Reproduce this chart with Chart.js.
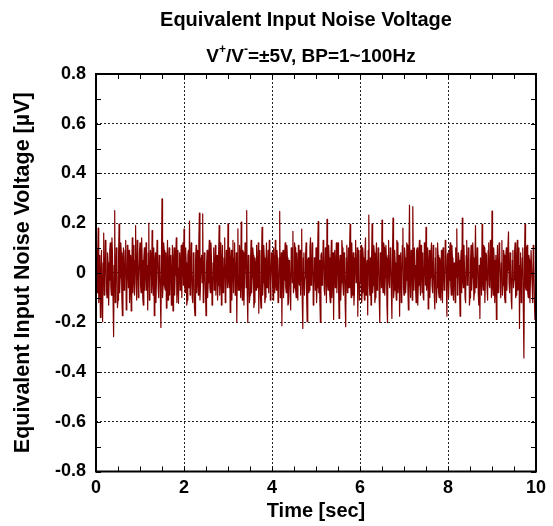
<!DOCTYPE html>
<html>
<head>
<meta charset="utf-8">
<script src="https://cdn.jsdelivr.net/npm/chart.js@4.4.1/dist/chart.umd.min.js"></script>
<style>
  html, body { margin: 0; padding: 0; background: #fff; }
  #wrap { width: 553px; height: 526px; position: relative; }
</style>
</head>
<body>
<div id="wrap"><canvas id="noiseChart"></canvas></div>
<script>
// sample spacing of the trace [sec]
const sampleStep = 0.0125;

// noise samples [uV]
const noiseValues = [
  0.02, 0.10, -0.08, 0.05, 0.18, -0.12, -0.05, 0.07, -0.18, -0.02, 0.09, -0.10, -0.197, 0.04, 0.16, -0.09, -0.06, 0.13, 0.11, -0.07,
  -0.10, 0.08, 0.04, -0.13, -0.03, 0.09, 0.12, -0.06, -0.09, 0.14, 0.07, -0.11, -0.257, 0.03, 0.25, -0.12, -0.07, 0.10, 0.05, -0.14,
  -0.11, 0.06, 0.196, -0.08, -0.02, 0.12, 0.08, -0.10, -0.173, 0.05, 0.10, -0.07, -0.04, 0.09, 0.13, -0.15, -0.12, 0.11, 0.03, -0.06,
  0.09, -0.12, -0.06, 0.07, -0.154, 0.02, 0.14, -0.08, -0.01, 0.11, -0.09, 0.05, 0.19, -0.04, -0.11, 0.13, 0.06, -0.10, -0.03, 0.08,
  0.12, -0.05, -0.08, 0.14, 0.05, -0.10, -0.13, 0.06, 0.10, -0.07, 0.01, 0.12, -0.07, 0.03, -0.15, 0.08, 0.20, -0.11, -0.04, 0.09,
  0.06, -0.08, 0.17, -0.03, -0.09, 0.10, -0.173, 0.04, 0.08, -0.12, -0.02, 0.13, 0.11, -0.06, -0.10, 0.07, 0.04, -0.09, -0.22, 0.05,
  0.297, -0.10, -0.05, 0.12, 0.09, -0.06, -0.07, 0.08, -0.142, 0.03, 0.13, -0.11, 0.02, 0.10, -0.09, 0.05, 0.07, -0.13, -0.04, 0.11,
  -0.154, 0.04, 0.10, -0.09, -0.01, 0.07, 0.14, -0.12, -0.06, 0.09, -0.123, 0.02, 0.08, -0.07, 0.03, 0.11, -0.10, 0.06, 0.12, -0.05,
  0.176, -0.04, -0.08, 0.10, 0.04, -0.13, -0.11, 0.07, 0.09, -0.06, 0.208, -0.09, -0.07, 0.12, 0.01, -0.10, -0.12, 0.08, 0.06, -0.14,
  -0.173, 0.05, 0.11, -0.08, -0.03, 0.09, -0.09, 0.13, 0.24, -0.11, -0.05, 0.06, 0.07, -0.04, 0.237, -0.12, -0.10, 0.08, 0.03, -0.07,
  -0.173, 0.03, 0.09, -0.10, -0.04, 0.07, 0.13, -0.06, -0.08, 0.12, 0.05, -0.13, -0.11, 0.04, 0.10, -0.07, 0.02, 0.11, -0.09, 0.06,
  0.07, -0.11, -0.05, 0.08, 0.19, -0.09, -0.02, 0.12, -0.13, 0.03, 0.11, -0.08, -0.07, 0.06, 0.14, -0.12, -0.10, 0.09, 0.04, -0.06,
  0.197, -0.03, -0.06, 0.10, -0.16, 0.05, 0.09, -0.11, 0.03, 0.13, -0.08, 0.06, 0.12, -0.09, -0.04, 0.08, -0.20, 0.02, 0.177, -0.07,
  -0.07, 0.11, 0.05, -0.10, 0.204, -0.04, -0.11, 0.09, 0.08, -0.13, -0.03, 0.12, 0.10, -0.06, 0.25, -0.09, -0.20, 0.07, 0.06, -0.12,
  -0.09, 0.05, 0.13, -0.08, -0.02, 0.10, 0.07, -0.14, -0.12, 0.06, 0.04, -0.07, 0.11, 0.02, -0.06, 0.12, -0.163, 0.03, 0.09, -0.10,
  -0.142, 0.07, 0.183, -0.09, -0.04, 0.11, 0.06, -0.12, -0.10, 0.04, 0.12, -0.06, -0.01, 0.09, -0.08, 0.13, 0.10, -0.11, -0.05, 0.08,
  0.08, -0.04, -0.11, 0.10, 0.03, -0.08, 0.13, -0.05, -0.07, 0.09, 0.05, -0.12, -0.09, 0.06, 0.247, -0.10, 0.01, 0.08, -0.213, 0.04,
  0.09, -0.10, -0.03, 0.07, 0.12, -0.06, -0.08, 0.11, 0.06, -0.13, -0.12, 0.05, 0.04, -0.09, -0.15, 0.10, 0.07, -0.04, 0.167, -0.08,
  -0.06, 0.12, 0.10, -0.07, -0.10, 0.08, 0.02, -0.11, 0.11, -0.03, -0.05, 0.09, -0.09, 0.04, 0.176, -0.12, -0.224, 0.06, 0.08, -0.09,
  -0.02, 0.07, 0.12, -0.10, -0.197, 0.05, 0.06, -0.08, -0.07, 0.10, 0.14, -0.05, -0.04, 0.12, 0.09, -0.13, -0.11, 0.06, 0.03, -0.07,
  0.10, -0.12, -0.06, 0.09, 0.206, -0.08, 0.05, -0.11, -0.20, 0.07, 0.08, -0.05, -0.03, 0.13, 0.11, -0.07, -0.09, 0.10, 0.04, -0.12,
  0.215, -0.04, -0.07, 0.11, 0.06, -0.09, -0.12, 0.05, 0.13, -0.10, -0.02, 0.08, -0.188, 0.03, 0.09, -0.06, 0.02, 0.12, -0.08, 0.07,
  0.12, -0.06, -0.184, 0.04, 0.07, -0.11, -0.04, 0.13, 0.10, -0.05, -0.09, 0.08, 0.05, -0.12, -0.217, 0.06, 0.11, -0.08, -0.03, 0.10,
  -0.06, 0.09, 0.195, -0.05, -0.10, 0.12, 0.04, -0.09, 0.08, -0.13, -0.07, 0.06, 0.13, -0.04, -0.02, 0.10, -0.175, 0.03, 0.09, -0.11,
  -0.04, 0.07, 0.11, -0.12, -0.08, 0.10, 0.06, -0.06, -0.11, 0.08, 0.14, -0.09, 0.01, 0.05, -0.17, 0.09, 0.232, -0.05, -0.09, 0.06,
  -0.13, 0.04, 0.197, -0.08, -0.05, 0.11, 0.08, -0.12, -0.10, 0.06, 0.12, -0.07, -0.03, 0.10, 0.07, -0.11, -0.20, 0.08, 0.05, -0.06,
  0.212, -0.05, -0.08, 0.12, 0.10, -0.09, -0.02, 0.11, 0.06, -0.13, -0.20, 0.07, 0.13, -0.04, -0.06, 0.10, 0.09, -0.07, -0.184, 0.05,
  0.22, -0.10, -0.07, 0.09, 0.04, -0.06, -0.11, 0.13, 0.12, -0.08, -0.01, 0.07, -0.175, 0.04, 0.08, -0.12, -0.05, 0.11, 0.18, -0.06,
  -0.09, 0.10, 0.06, -0.08, -0.03, 0.12, 0.11, -0.06, -0.15, 0.08, 0.272, -0.04, -0.10, 0.09, 0.05, -0.11, 0.266, 0.03, -0.07, 0.10,
  0.03, -0.06, -0.12, 0.09, 0.10, -0.13, -0.05, 0.07, 0.13, -0.04, -0.09, 0.11, 0.02, -0.08, 0.08, -0.10, -0.11, 0.12, 0.06, -0.05,
  0.183, -0.07, -0.04, 0.10, -0.146, 0.03, 0.09, -0.10, -0.02, 0.08, 0.12, -0.05, -0.08, 0.11, 0.05, -0.09, -0.146, 0.06, 0.10, -0.12,
  -0.06, 0.12, 0.07, -0.08, -0.10, 0.06, 0.04, -0.11, 0.09, -0.03, -0.12, 0.10, 0.02, -0.07, -0.05, 0.13, 0.11, -0.04, -0.175, 0.07,
  0.08, -0.10, -0.03, 0.09, 0.12, -0.05, -0.09, 0.11, 0.06, -0.07, -0.11, 0.04, 0.03, -0.12, 0.10, -0.02, 0.177, -0.09, -0.07, 0.08,
  0.05, -0.06, -0.175, 0.04, 0.09, -0.08, 0.22, -0.03, -0.06, 0.11, 0.02, -0.10, -0.12, 0.07, 0.13, -0.05, -0.04, 0.10, 0.07, -0.13,
  -0.10, 0.05, 0.11, -0.07, -0.02, 0.12, 0.06, -0.11, -0.08, 0.04, 0.19, -0.06, -0.05, 0.10, 0.09, -0.08, -0.13, 0.03, -0.184, 0.06,
  0.04, -0.09, 0.195, -0.04, -0.07, 0.11, 0.10, -0.12, -0.03, 0.08, 0.07, -0.06, -0.11, 0.09, 0.12, -0.05, -0.06, 0.13, 0.02, -0.10,
  0.248, -0.05, -0.09, 0.10, 0.05, -0.12, -0.04, 0.07, -0.188, 0.02, 0.11, -0.08, -0.02, 0.12, 0.08, -0.06, -0.10, 0.04, 0.13, -0.09,
  -0.05, 0.09, 0.07, -0.10, -0.12, 0.06, 0.10, -0.07, 0.01, 0.11, 0.165, -0.04, -0.08, 0.08, 0.04, -0.11, -0.146, 0.05, 0.09, -0.06,
  -0.03, 0.08, 0.12, -0.10, -0.09, 0.05, 0.13, -0.07, -0.06, 0.10, -0.224, 0.03, 0.08, -0.12, -0.04, 0.06, 0.10, -0.15, -0.343, 0.04,
  0.195, -0.06, -0.07, 0.10, 0.11, -0.08, -0.10, 0.07, 0.05, -0.12, -0.02, 0.09, 0.09, -0.05, -0.12, 0.11, 0.06, -0.10, -0.188, -0.12,
  -0.15
];

// axis ranges and ticks
const timeRange = [0, 10];
const timeMajorStep = 2;
const timeMinorStep = 0.5;
const voltRange = [-0.8, 0.8];
const voltMajorStep = 0.2;
const voltMinorStep = 0.1;

const chartTitle = 'Equivalent Input Noise Voltage';
const xTitle = 'Time [sec]';
const yTitle = 'Equivalent Input Noise Voltage [\u00b5V]';

const FONT = '"Liberation Sans", Arial, Helvetica, sans-serif';

const points = noiseValues.map((v, i) => ({ x: i * sampleStep, y: v }));

// titles on top (the subtitle needs superscripts so it is drawn by hand)
const titlePlugin = {
    id: 'titles',
    afterDraw(chart) {
        const ctx = chart.ctx;
        ctx.save();
        ctx.fillStyle = '#000';
        ctx.textBaseline = 'middle';
        ctx.textAlign = 'center';
        ctx.font = 'bold 20px ' + FONT;
        ctx.fillText(chartTitle, 306, 20);

        const parts = [
            ['V', false], ['+', true], ['/V', false], ['-', true],
            ['=\u00b15V, BP=1~100Hz', false]
        ];
        const big = 'bold 19px ' + FONT;
        const small = 'bold 12px ' + FONT;
        let total = 0;
        parts.forEach(p => {
            ctx.font = p[1] ? small : big;
            total += ctx.measureText(p[0]).width;
        });
        let x = 311 - total / 2;
        ctx.textAlign = 'left';
        parts.forEach(p => {
            ctx.font = p[1] ? small : big;
            ctx.fillText(p[0], x, p[1] ? 50 : 57);
            x += ctx.measureText(p[0]).width;
        });
        ctx.restore();
    }
};

// box round the plot with inward ticks on all four sides
const framePlugin = {
    id: 'frame',
    afterDatasetsDraw(chart) {
        const { ctx, chartArea: a, scales: { x, y } } = chart;
        ctx.save();
        ctx.strokeStyle = '#000';
        ctx.lineWidth = 1;
        ctx.beginPath();
        for (let t = timeRange[0]; t <= timeRange[1] + 1e-9; t += timeMinorStep) {
            const px = Math.round(x.getPixelForValue(t)) + 0.5;
            ctx.moveTo(px, a.bottom); ctx.lineTo(px, a.bottom - 5);
            ctx.moveTo(px, a.top); ctx.lineTo(px, a.top + 5);
        }
        for (let v = voltRange[0]; v <= voltRange[1] + 1e-9; v += voltMinorStep) {
            const py = Math.round(y.getPixelForValue(v)) + 0.5;
            ctx.moveTo(a.left, py); ctx.lineTo(a.left + 5, py);
            ctx.moveTo(a.right, py); ctx.lineTo(a.right - 5, py);
        }
        ctx.stroke();
        ctx.lineWidth = 2;
        ctx.strokeRect(a.left, a.top, a.right - a.left, a.bottom - a.top);
        ctx.restore();
    }
};

new Chart(document.getElementById('noiseChart').getContext('2d'), {
    type: 'line',
    data: {
        datasets: [{
            data: points,
            borderColor: '#800000',
            borderWidth: 1.2,
            borderJoinStyle: 'round',
            pointRadius: 0,
            tension: 0,
            fill: false
        }]
    },
    options: {
        responsive: true,
        maintainAspectRatio: false,
        animation: false,
        events: [],
        layout: { padding: { top: 74, right: 17, left: 0, bottom: 0 } },
        plugins: {
            legend: { display: false },
            tooltip: { enabled: false }
        },
        scales: {
            x: {
                type: 'linear',
                min: timeRange[0],
                max: timeRange[1],
                afterFit: s => { s.height = 54.5; },
                ticks: {
                    stepSize: timeMajorStep,
                    color: '#000',
                    padding: 6,
                    maxRotation: 0,
                    font: { family: FONT, size: 18, weight: 'bold' }
                },
                grid: { color: '#222', lineWidth: 1, drawTicks: false },
                border: { display: false, dash: [2, 2] },
                title: {
                    display: true,
                    text: xTitle,
                    color: '#000',
                    padding: { top: 0, bottom: 3 },
                    font: { family: FONT, size: 20, weight: 'bold' }
                }
            },
            y: {
                min: voltRange[0],
                max: voltRange[1],
                afterFit: s => { s.width = 96; },
                ticks: {
                    stepSize: voltMajorStep,
                    color: '#000',
                    padding: 10,
                    font: { family: FONT, size: 18, weight: 'bold' }
                },
                grid: { color: '#222', lineWidth: 1, drawTicks: false },
                border: { display: false, dash: [2, 2] },
                title: {
                    display: true,
                    text: yTitle,
                    color: '#000',
                    padding: { top: 10, bottom: 0 },
                    font: { family: FONT, size: 21.5, weight: 'bold' }
                }
            }
        }
    },
    plugins: [titlePlugin, framePlugin]
});
</script>
</body>
</html>
